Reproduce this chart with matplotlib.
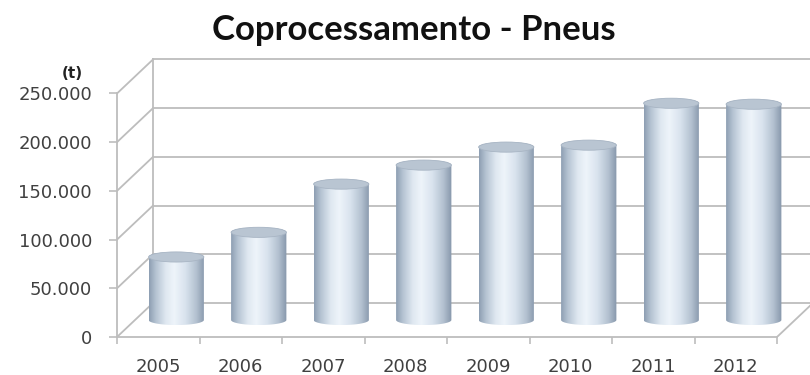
import matplotlib.pyplot as plt
import numpy as np
from matplotlib.path import Path
from matplotlib.patches import PathPatch, Ellipse
from matplotlib.colors import LinearSegmentedColormap

plt.rcParams['font.family'] = 'DejaVu Sans'

years = ['2005', '2006', '2007', '2008', '2009', '2010', '2011', '2012']
tons = [64700, 90000, 139500, 159000, 177500, 179500, 222500, 221500]
y_ticks = [0, 50000, 100000, 150000, 200000, 250000]
y_labels = ['0', '50.000', '100.000', '150.000', '200.000', '250.000']

# fake 3d depth (back wall offset), in data units
dx = 0.436
dy = 34900
grid_col = '#bdbdbd'
text_col = '#404040'

cyl_cmap = LinearSegmentedColormap.from_list('cyl', [
    (0.0, '#8e9fb3'), (0.12, '#b5c3d2'), (0.3, '#dfe8f1'), (0.45, '#eef4fa'),
    (0.65, '#d9e3ee'), (0.85, '#b3c1d0'), (1.0, '#8797ab')])

fig = plt.figure(figsize=(8.1, 3.75), dpi=100)
ax = fig.add_axes([117 / 810, 38 / 375, 693 / 810, 282 / 375])

x = np.arange(len(years))
xmin, xmax = -0.5, len(years) - 0.5

# left wall diagonals + back wall gridlines
for v in y_ticks:
    ax.plot([xmin, xmin + dx], [v, v + dy], color=grid_col, lw=1.3, zorder=1)
    ax.plot([xmin + dx, xmax + dx + 1], [v + dy, v + dy], color=grid_col, lw=1.3, zorder=1)
ax.plot([xmin + dx, xmin + dx], [dy, y_ticks[-1] + dy], color=grid_col, lw=1.3, zorder=1)
ax.plot([xmax, xmax + dx], [0, dy], color=grid_col, lw=1.3, zorder=1)

# cylinders at half depth
bw = 0.335
eh = 5200
grad = np.linspace(0, 1, 200)[None, :]
for xi, val in zip(x, tons):
    cx = xi + dx / 2
    yb = dy / 2
    yt = yb + val
    t1 = np.linspace(np.pi, 2 * np.pi, 60)
    t2 = np.linspace(0, np.pi, 60)
    xs = np.concatenate([cx + bw * np.cos(t1), cx + bw * np.cos(t2)])
    ys = np.concatenate([yb + eh * np.sin(t1), yt + eh * np.sin(t2)])
    verts = np.column_stack([xs, ys])
    patch = PathPatch(Path(verts, closed=False), facecolor='none', edgecolor='none', zorder=3)
    ax.add_patch(patch)
    im = ax.imshow(grad, cmap=cyl_cmap, aspect='auto', zorder=3,
                   extent=[cx - bw, cx + bw, yb - eh, yt + eh])
    im.set_clip_path(patch)
    ax.add_patch(Ellipse((cx, yt), 2 * bw, 2 * eh, facecolor='#b9c5d2',
                         edgecolor='#a8b5c4', lw=0.6, zorder=4))

ax.set_xlim(xmin, xmin + 693 / 82.5)
ax.set_ylim(0, 289500)

for s in ['top', 'right']:
    ax.spines[s].set_visible(False)
ax.spines['left'].set_bounds(0, y_ticks[-1])
ax.spines['bottom'].set_bounds(xmin, xmax)
for s in ['left', 'bottom']:
    ax.spines[s].set_color(grid_col)
    ax.spines[s].set_linewidth(1.3)

ax.set_yticks(y_ticks)
ax.set_yticklabels(y_labels)
ax.tick_params(axis='y', length=6, width=1.2, color=grid_col, pad=12,
               labelsize=13, labelcolor=text_col)
ax.set_xticks(np.arange(len(years) + 1) - 0.5)
ax.set_xticklabels([])
ax.set_xticks(x, minor=True)
ax.set_xticklabels(years, minor=True)
ax.tick_params(axis='x', which='major', length=5, width=1.2, color=grid_col)
ax.tick_params(axis='x', which='minor', length=0, pad=15, labelsize=13,
               labelcolor=text_col)

fig.text(414 / 810, 1 - 30 / 375, 'Coprocessamento - Pneus', ha='center', va='center',
         fontsize=25, fontweight='bold', family='Lato', color='#111111')
fig.text(72 / 810, 1 - 73 / 375, '(t)', ha='center', va='center',
         fontsize=11, fontweight='bold', color='#222222')

fig.savefig('out.png', dpi=100)
